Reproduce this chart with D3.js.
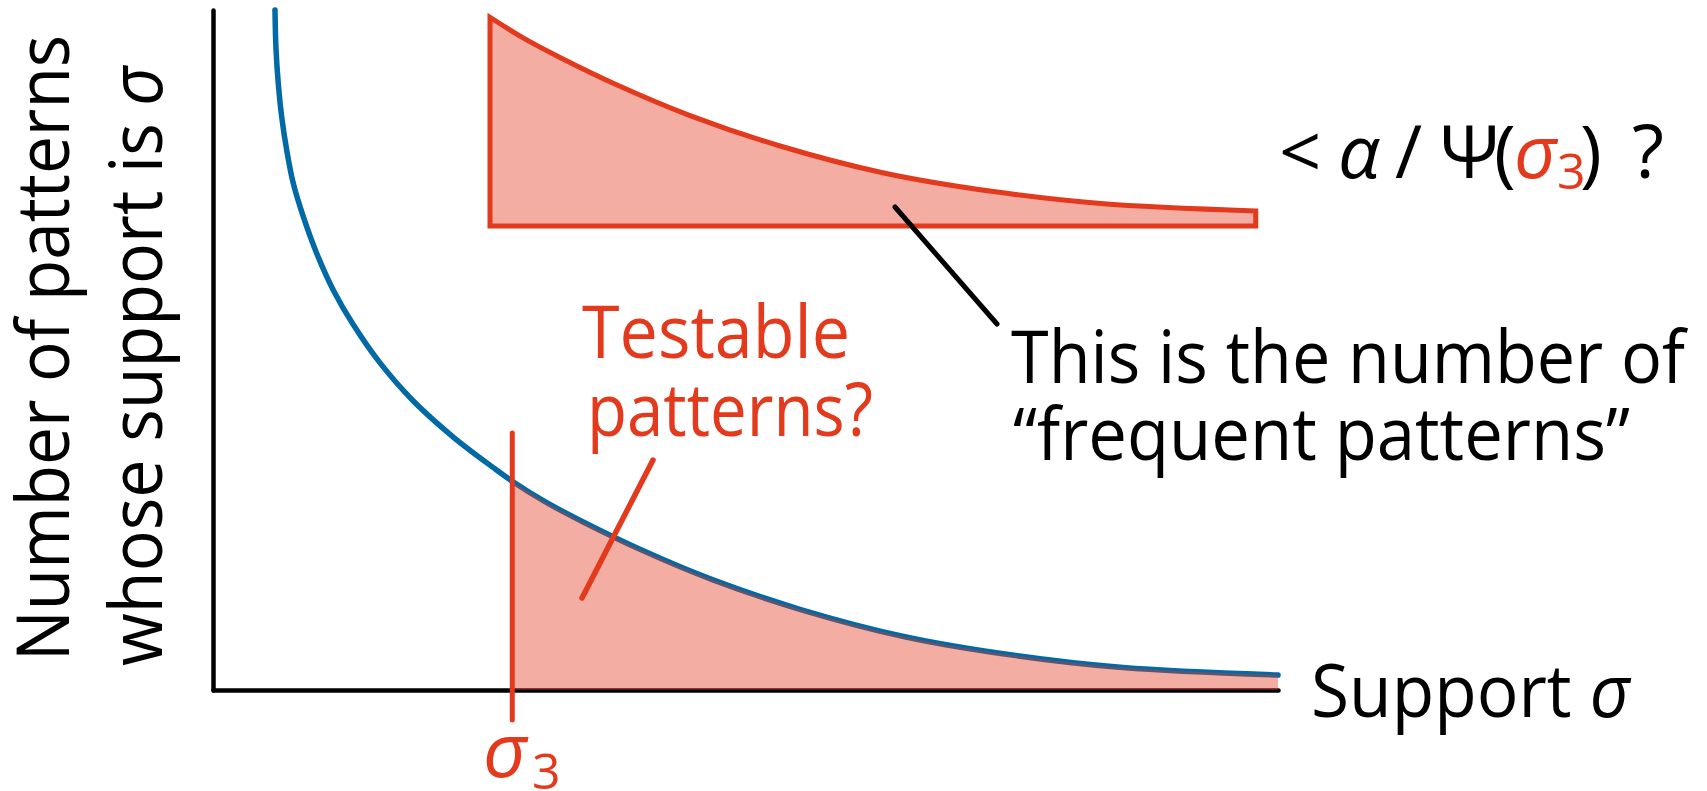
<!DOCTYPE html>
<html><head><meta charset="utf-8">
<script src="https://cdn.jsdelivr.net/npm/d3@7"></script>
<style>
html,body{margin:0;padding:0;background:#fff;overflow:hidden}
text{font-family:"Open Sans","Noto Sans",sans-serif}
</style></head>
<body>
<svg id="c" width="1707" height="791"></svg>
<script>
// ---- data ----
const support = [0.582, 0.592, 0.613, 0.645, 0.692, 0.754, 0.848, 0.974, 1.130, 1.318, 1.568, 1.881, 2.256, 2.632, 2.81, 3.117, 3.453, 4.009, 4.695, 5.526, 6.507, 7.521, 8.545, 10];
const counts  = [100.0, 94.1, 89.2, 84.3, 79.4, 74.5, 69.6, 64.2, 58.8, 53.7, 48.1, 42.5, 37.2, 32.7, 30.7, 27.7, 24.9, 20.7, 16.2, 11.8, 7.8, 5.1, 3.3, 2.2];
const sigma3 = 2.81;
const xDomain = [0, 10];
const yDomain = [0, 100];
const yLabelLines = ["Number of patterns", "whose support is "];
const xLabel = "Support ";
const testableLines = ["Testable", "patterns?"];
const noteLines = ["This is the number of", "\u201Cfrequent patterns\u201D"];

const RED = "#E3391C", BLUE = "#0069A6", FILL_OP = 0.41;

const svg = d3.select("#c");
const x = d3.scaleLinear().domain(xDomain).range([213, 1278]);
const y = d3.scaleLinear().domain(yDomain).range([690, 10]);

const pts = support.map((s, i) => ({s, c: counts[i]}));
const tail = pts.filter(d => d.s >= sigma3);

const curve = d3.curveCatmullRom.alpha(0.5);
const line = d3.line().x(d => x(d.s)).y(d => y(d.c)).curve(curve);
const area = d3.area().x(d => x(d.s)).y0(y(0)).y1(d => y(d.c)).curve(curve);

// axes
svg.append("g").attr("transform", `translate(0,${y(0)})`)
  .call(d3.axisBottom(x).tickValues([]).tickSizeOuter(0))
  .call(g => g.select(".domain").attr("stroke", "#000").attr("stroke-width", 4.5).attr("stroke-linecap", "round"));
svg.append("g").attr("transform", `translate(${x(0)},0)`)
  .call(d3.axisLeft(y).tickValues([]).tickSizeOuter(0))
  .call(g => g.select(".domain").attr("stroke", "#000").attr("stroke-width", 4.5).attr("stroke-linecap", "round"));

// blue curve
svg.append("path").datum(pts).attr("d", line)
  .attr("fill", "none").attr("stroke", BLUE).attr("stroke-width", 5.5).attr("stroke-linecap", "round");

// clipped fill
svg.append("defs").append("clipPath").attr("id", "tailclip")
  .append("rect").attr("x", x(sigma3)).attr("y", 0)
  .attr("width", x(xDomain[1]) - x(sigma3)).attr("height", y(0) + 1);
svg.append("path").datum(pts).attr("d", area)
  .attr("fill", RED).attr("fill-opacity", FILL_OP).attr("clip-path", "url(#tailclip)");

// sigma3 marker
svg.append("line").attr("x1", x(sigma3)).attr("x2", x(sigma3)).attr("y1", 433).attr("y2", 720)
  .attr("stroke", RED).attr("stroke-width", 5).attr("stroke-linecap", "round");

// inset copy of the tail
svg.append("g").attr("transform", `translate(${490 - x(sigma3)},${226 - y(0)})`)
  .append("path").datum(tail).attr("d", area)
  .attr("fill", d3.color(RED).copy({opacity: FILL_OP}))
  .attr("stroke", RED).attr("stroke-width", 5).attr("stroke-linejoin", "miter");

// leader lines
svg.append("line").attr("x1", 895).attr("y1", 207).attr("x2", 997).attr("y2", 324)
  .attr("stroke", "#000").attr("stroke-width", 5).attr("stroke-linecap", "round");
svg.append("line").attr("x1", 653).attr("y1", 460).attr("x2", 582).attr("y2", 598)
  .attr("stroke", RED).attr("stroke-width", 5.5).attr("stroke-linecap", "round");

function fitText(sel, len) {
  sel.attr("textLength", len).attr("lengthAdjust", "spacingAndGlyphs");
  return sel;
}

// y label
const yl1 = svg.append("text").attr("transform", "translate(69,661) rotate(-90)")
  .attr("font-size", 74).attr("fill", "#000").text(yLabelLines[0]);
fitText(yl1, 626);
const yl2 = svg.append("text").attr("transform", "translate(162,666) rotate(-90)")
  .attr("font-size", 74).attr("fill", "#000");
yl2.append("tspan").text(yLabelLines[1]);
yl2.append("tspan").attr("font-style", "italic").text("\u03C3");
fitText(yl2, 600);

// x label
const xl = svg.append("text").attr("x", 1311).attr("y", 717).attr("font-size", 74).attr("fill", "#000");
xl.append("tspan").text(xLabel);
xl.append("tspan").attr("font-style", "italic").text("\u03C3");
fitText(xl, 319);

// sigma3 label under the axis
const s3 = svg.append("text").attr("fill", RED);
s3.append("tspan").attr("x", 483).attr("y", 777).attr("font-size", 76).attr("font-style", "italic").text("\u03C3");
s3.append("tspan").attr("x", 532).attr("y", 789).attr("font-size", 50).text("3");

// Testable patterns?
fitText(svg.append("text").attr("x", 582).attr("y", 358).attr("font-size", 74).attr("fill", RED).text(testableLines[0]), 268);
fitText(svg.append("text").attr("x", 587).attr("y", 436).attr("font-size", 74).attr("fill", RED).text(testableLines[1]), 286);

// note
fitText(svg.append("text").attr("x", 1011).attr("y", 383).attr("font-size", 74).attr("fill", "#000").text(noteLines[0]), 674);
fitText(svg.append("text").attr("x", 1013).attr("y", 460).attr("font-size", 74).attr("fill", "#000").text(noteLines[1]), 617);

// formula
const f = svg.append("text").attr("font-size", 74).attr("fill", "#000");
f.append("tspan").attr("x", 1279).attr("y", 178).text("<");
f.append("tspan").attr("x", 1338).attr("y", 178).attr("font-style", "italic").text("\u03B1");
f.append("tspan").attr("x", 1395).attr("y", 178).text("/");
f.append("tspan").attr("x", 1440).attr("y", 178).text("\u03A8");
f.append("tspan").attr("x", 1494).attr("y", 178).text("(");
f.append("tspan").attr("x", 1514).attr("y", 178).attr("font-style", "italic").attr("fill", RED).text("\u03C3");
f.append("tspan").attr("x", 1557).attr("y", 189).attr("font-size", 50).attr("fill", RED).text("3");
f.append("tspan").attr("x", 1580).attr("y", 178).text(")");
f.append("tspan").attr("x", 1632).attr("y", 178).text("?");
</script>
</body></html>
